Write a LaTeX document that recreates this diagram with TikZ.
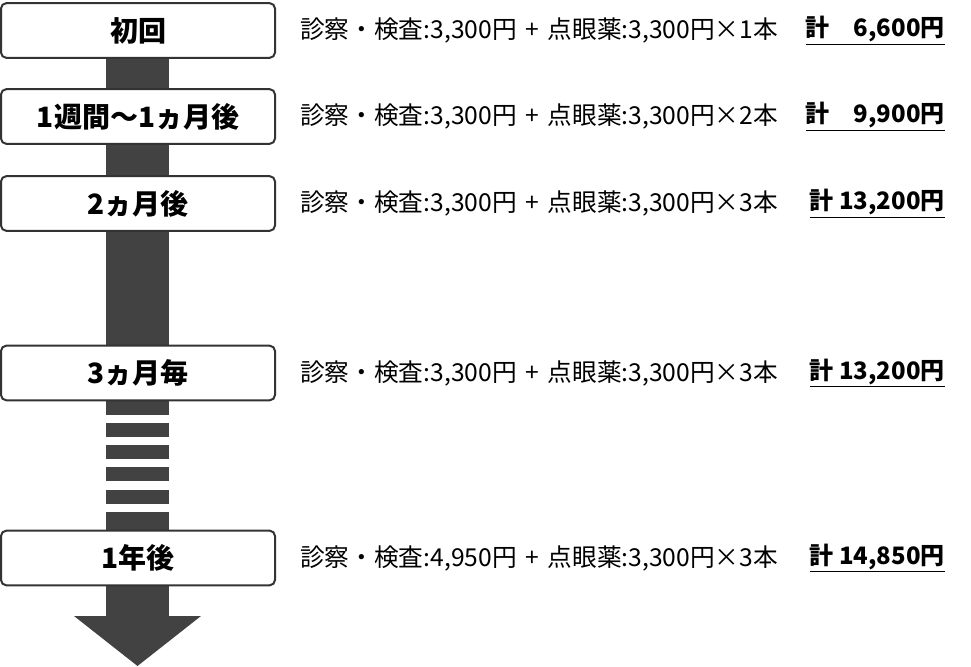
\documentclass[tikz,border=0pt]{standalone}
\usepackage{fontspec}
\setmainfont{Noto Sans CJK JP}
\usetikzlibrary{positioning}
\definecolor{bardark}{HTML}{424242}
\definecolor{boxline}{HTML}{333333}

\tikzset{
  stagebox/.style={draw=boxline, line width=1.5pt, fill=white, rounded corners=4pt,
    minimum width=205.5pt, minimum height=41pt, inner sep=0pt,
    font=\fontsize{21}{25}\selectfont\bfseries},
  feetext/.style={anchor=west, inner sep=0pt, font=\fontsize{18.5}{22}\selectfont},
  totaltext/.style={anchor=east, inner sep=0pt, font=\fontsize{18}{22}\selectfont\bfseries},
}
\newcommand{\plusgap}{\hspace{0.35em}+\hspace{0.35em}}

\begin{document}
\begin{tikzpicture}[x=0.75pt, y=-0.75pt]
\useasboundingbox (0,0) rectangle (971,667);

% timeline bar
\fill[bardark] (106,30) rectangle (169,415);
\foreach \y in {423,445,467,490} {
  \fill[bardark] (106,\y) rectangle (169,\y+14);
}
\fill[bardark] (106,512) rectangle (169,617);
\fill[bardark] (74,616) -- (201,616) -- (137.5,666) -- cycle;

% stages
\node[stagebox] (first) at (138,30.5) {初回};
\node[stagebox] (week) at (138,116.5) {1週間～1ヵ月後};
\node[stagebox] (twomonth) at (138,203.5) {2ヵ月後};
\node[stagebox] (every3) at (138,373) {3ヵ月毎};
\node[stagebox] (oneyear) at (138,558) {1年後};

% fees
\node[feetext] (feeA) at (300,30.5) {診察・検査:3,300円\plusgap 点眼薬:3,300円×1本};
\node[totaltext] (sumA) at (945,30.5) {\underline{計　6,600円}};
\node[feetext] (feeB) at (300,116.5) {診察・検査:3,300円\plusgap 点眼薬:3,300円×2本};
\node[totaltext] (sumB) at (945,116.5) {\underline{計　9,900円}};
\node[feetext] (feeC) at (300,203.5) {診察・検査:3,300円\plusgap 点眼薬:3,300円×3本};
\node[totaltext] (sumC) at (945,203.5) {\underline{計 13,200円}};
\node[feetext] (feeD) at (300,373) {診察・検査:3,300円\plusgap 点眼薬:3,300円×3本};
\node[totaltext] (sumD) at (945,373) {\underline{計 13,200円}};
\node[feetext] (feeE) at (300,558) {診察・検査:4,950円\plusgap 点眼薬:3,300円×3本};
\node[totaltext] (sumE) at (945,558) {\underline{計 14,850円}};
\end{tikzpicture}
\end{document}
